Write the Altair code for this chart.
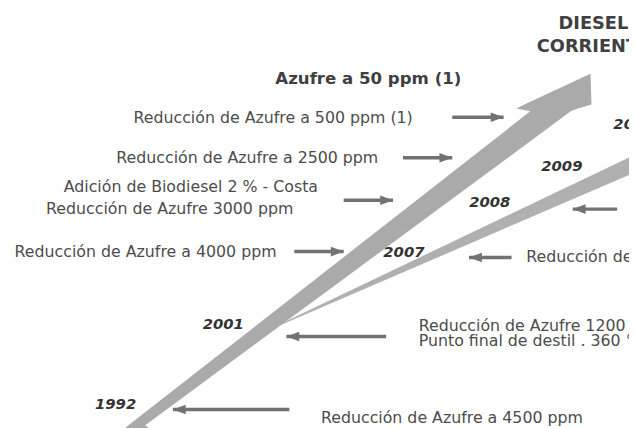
import altair as alt
import pandas as pd

# ---- coordinate frame: image pixels (x to the right, y downward) ----
W, H = 629, 420
xs = alt.Scale(domain=[8, 637], nice=False, zero=False)
ys = alt.Scale(domain=[8, 428], nice=False, zero=False, reverse=True)

# main (wide) arrow band: outline by horizontal slices
main_y = [72, 103, 107, 110, 428, 440]
main_xl = [598, 531, 523, 537, 130, 115]
main_xr = [598, 599, 585, 578, 147, 163]

# secondary (thin) band
thin_x = [255, 645]
thin_yu = [339, 153]
thin_yl = [339, 171]

# arrows
arrow_tail = [458, 408, 348, 298, 625, 518, 391, 293]
arrow_tip = [510, 458, 398, 348, 580, 475, 290, 175]
arrow_y = [116, 157, 200, 252, 209, 258, 338, 412]

# labels on the left (right-aligned at their end)
left_labels = ["Reducción de Azufre a 500 ppm (1)", "Reducción de Azufre a 2500 ppm",
               "Adición de Biodiesel 2 % - Costa", "Reducción de Azufre 3000 ppm",
               "Reducción de Azufre a 4000 ppm"]
left_x = [418, 383, 322, 297, 280]
left_y = [117, 157, 187, 209, 252]

# labels on the right (left-aligned at their start)
right_labels = ["Reducción de Azufre a 50 ppm", "Reducción de Azufre 1200 ppm",
                "Punto final de destil .  360 °C", "Reducción de Azufre a 4500 ppm"]
right_x = [533, 424, 424, 325]
right_y = [258, 327, 343, 421]

# headings
head_labels = ["Azufre a 50 ppm (1)", "DIESEL", "CORRIENTE"]
head_x = [373, 601, 601]
head_y = [77, 22, 45]
head_size = [16.8, 18, 18]

# years
years = ["1992", "2001", "2007", "2008", "2009", "2010"]
year_x = [117, 226, 409, 496, 569, 642]
year_y = [406, 325, 252, 202, 165, 123]

main_df = pd.DataFrame({"y": main_y, "xl": main_xl, "xr": main_xr})
thin_df = pd.DataFrame({"x": thin_x, "yu": thin_yu, "yl": thin_yl})
arr_df = pd.DataFrame({"tail": arrow_tail, "tip": arrow_tip, "y": arrow_y})
arr_df["dir"] = ["right" if t > s else "left" for s, t in zip(arrow_tail, arrow_tip)]
left_df = pd.DataFrame({"t": left_labels, "x": left_x, "y": left_y})
right_df = pd.DataFrame({"t": right_labels, "x": right_x, "y": right_y})
head_df = pd.DataFrame({"t": head_labels, "x": head_x, "y": head_y, "s": head_size})
year_df = pd.DataFrame({"t": years, "x": year_x, "y": year_y})

band_color = "#aaaaaa"
arrow_color = "#727272"

thin = alt.Chart(thin_df).mark_area(color="#b0b0b0", opacity=1).encode(
    x=alt.X("x:Q", scale=xs, axis=None),
    y=alt.Y("yu:Q", scale=ys, axis=None),
    y2="yl:Q",
)

main = alt.Chart(main_df).mark_area(orient="horizontal", color=band_color, opacity=1).encode(
    y=alt.Y("y:Q", scale=ys, axis=None),
    x=alt.X("xl:Q", scale=xs, axis=None, stack=None),
    x2="xr:Q",
)

shafts = alt.Chart(arr_df).mark_rule(color=arrow_color, strokeWidth=3.5).encode(
    x=alt.X("tail:Q", scale=xs, axis=None),
    x2="tip:Q",
    y=alt.Y("y:Q", scale=ys, axis=None),
)

heads = alt.Chart(arr_df).mark_point(filled=True, opacity=1, color=arrow_color, size=169).encode(
    x=alt.X("tip:Q", scale=xs, axis=None),
    y=alt.Y("y:Q", scale=ys, axis=None),
    shape=alt.Shape("dir:N", legend=None, scale=alt.Scale(
        domain=["right", "left"],
        range=["M0,0L-2,-0.75L-2,0.75Z", "M0,0L2,-0.75L2,0.75Z"])),
)

left_txt = alt.Chart(left_df).mark_text(align="right", baseline="middle", font="DejaVu Sans",
                                        fontSize=16, color="#4c4c4c").encode(
    x=alt.X("x:Q", scale=xs, axis=None), y=alt.Y("y:Q", scale=ys, axis=None), text="t:N")

right_txt = alt.Chart(right_df).mark_text(align="left", baseline="middle", font="DejaVu Sans",
                                          fontSize=16, color="#4c4c4c").encode(
    x=alt.X("x:Q", scale=xs, axis=None), y=alt.Y("y:Q", scale=ys, axis=None), text="t:N")

head_txt = alt.Chart(head_df).mark_text(align="center", baseline="middle", font="DejaVu Sans",
                                        fontWeight="bold", color="#404040").encode(
    x=alt.X("x:Q", scale=xs, axis=None), y=alt.Y("y:Q", scale=ys, axis=None), text="t:N",
    size=alt.Size("s:Q", scale=None, legend=None))

year_txt = alt.Chart(year_df).mark_text(align="center", baseline="middle", font="DejaVu Sans",
                                        fontSize=15, fontWeight="bold", fontStyle="italic",
                                        color="#333333").encode(
    x=alt.X("x:Q", scale=xs, axis=None), y=alt.Y("y:Q", scale=ys, axis=None), text="t:N")

chart = alt.layer(thin, main, shafts, heads, left_txt, right_txt, head_txt, year_txt).properties(
    width=W, height=H, padding=0, autosize=alt.AutoSizeParams(type="none"),
    background="white",
).configure_view(stroke=None)

chart.save("out.html", embed_options={"renderer": "svg", "actions": False})
